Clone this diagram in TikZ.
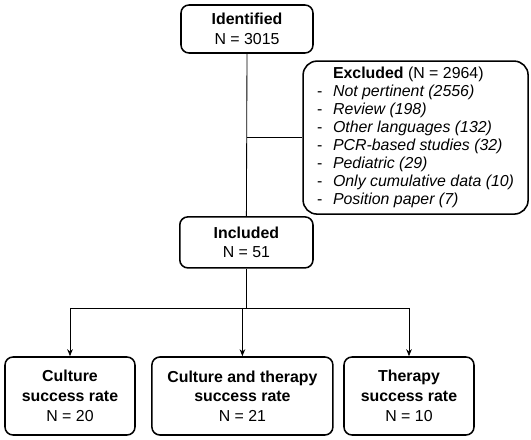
\documentclass[tikz,border=0pt]{standalone}
\usepackage{fontspec}
\setmainfont{Liberation Sans}
\usetikzlibrary{arrows.meta}

\begin{document}
\begin{tikzpicture}[font=\fontsize{11.3}{14}\selectfont, >={Stealth[length=5pt,width=4pt]},
	box/.style={draw, line width=1.1pt, rounded corners=0.2cm, align=center, inner sep=0pt},
	link/.style={draw, line width=0.6pt}]
	
	\useasboundingbox (0,0) rectangle (13.275,11);
	
	% 1. Search and screening
	\node[box, minimum width=3.3cm, minimum height=1.2cm] (ident) at (6.175,10.275)
		{\textbf{Identified}\\N = 3015};
	\node[box, rounded corners=0.35cm, align=left, font=\fontsize{11.3}{12.8}\selectfont,
		minimum width=5.625cm, minimum height=3.825cm] (excl) at (10.39,7.56) {
		\makebox[1em][l]{}\textbf{Excluded} (N = 2964)\\
		\makebox[1em][l]{-}\textit{Not pertinent (2556)}\\
		\makebox[1em][l]{-}\textit{Review (198)}\\
		\makebox[1em][l]{-}\textit{Other languages (132)}\\
		\makebox[1em][l]{-}\textit{PCR-based studies (32)}\\
		\makebox[1em][l]{-}\textit{Pediatric (29)}\\
		\makebox[1em][l]{-}\textit{Only cumulative data (10)}\\
		\makebox[1em][l]{-}\textit{Position paper (7)}
	};
	\node[box, minimum width=3.33cm, minimum height=1.275cm] (incl) at (6.16,4.94)
		{\textbf{Included}\\N = 51};
	
	\draw[link] (ident.south) -- (incl.north);
	\draw[link] (excl.west) -- (ident.south |- excl.west);
	
	% 2. Outcome groups
	\node[box, minimum width=3.25cm, minimum height=1.95cm] (cult) at (1.75,1.1)
		{\textbf{Culture}\\\textbf{success rate}\\N = 20};
	\node[box, minimum width=4.525cm, minimum height=1.95cm] (both) at (6.06,1.1)
		{\textbf{Culture and therapy}\\\textbf{success rate}\\N = 21};
	\node[box, minimum width=3.25cm, minimum height=1.95cm] (ther) at (10.225,1.1)
		{\textbf{Therapy}\\\textbf{success rate}\\N = 10};
	
	\coordinate (split) at (incl.south |- 0,3.3);
	\draw[link] (incl.south) -- (split);
	\draw[link] (cult.north |- split) -- (ther.north |- split);
	\foreach \g in {cult, both, ther}
		\draw[link, ->] (\g.north |- split) -- (\g.north);
	
\end{tikzpicture}
\end{document}
